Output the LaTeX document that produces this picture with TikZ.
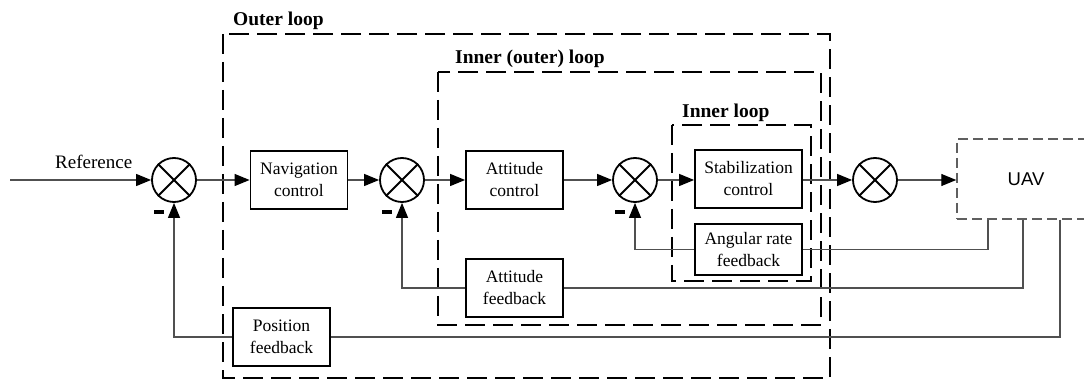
\documentclass[tikz,border=0pt]{standalone}
\usepackage{fontspec}
\setmainfont{Liberation Serif}
\newfontfamily\uavfont{Liberation Sans}
\usepackage{tikz}
\usetikzlibrary{positioning, calc, arrows.meta}
\definecolor{wirecolor}{RGB}{80,80,80}
\definecolor{uavborder}{RGB}{95,95,95}
\tikzset{
  block/.style={
    draw, line width=1.8pt, minimum width=97pt, minimum height=58pt,
    inner sep=2pt, align=center, font=\fontsize{17.5pt}{22pt}\selectfont
  },
  summer/.style={draw, circle, line width=1.8pt, minimum size=44pt, inner sep=0pt},
  uavbox/.style={draw=uavborder, line width=1.5pt, dash pattern=on 10pt off 5pt,
                 minimum width=138pt, minimum height=80pt,
                 font=\uavfont\fontsize{18.5pt}{22pt}\selectfont},
  % thick dashed frames of the three nested loops ──
  loopframe/.style={draw, line width=2pt, dash pattern=on 20pt off 8pt},
  looptitle/.style={anchor=base west, inner sep=0pt,
                    font=\fontsize{19.5pt}{22pt}\selectfont\bfseries},
  signal/.style={-{Triangle[length=15pt, width=12pt, color=black]}, line width=1.2pt, wirecolor},
  wire/.style={line width=1.2pt, wirecolor},
  negsign/.style={fill=black, minimum width=10pt, minimum height=4pt, inner sep=0pt},
}

\begin{document}
\begin{tikzpicture}[x=1pt, y=-1pt]
\useasboundingbox (0,0) rectangle (1084,379);

%% ── nested loop frames ────────────────────────────────────────────
\draw[loopframe] (223,34) rectangle (830,378);
\draw[loopframe] (438,72) rectangle (821,325);
\draw[loopframe] (672,125) rectangle (811,281);
\node[looptitle] (touter) at (233,26) {Outer loop};
\node[looptitle] (tmid)   at (455,64) {Inner (outer) loop};
\node[looptitle] (tinner) at (682,118) {Inner loop};

%% ── forward path ──────────────────────────────────────────────────
\coordinate (refin) at (10,180);
\node[anchor=base west, inner sep=0pt, font=\fontsize{19pt}{22pt}\selectfont] (reflbl) at (55,169) {Reference};
\node[summer] (sum1) at (174,180) {};
\node[block] (nav) at (299,180) {Navigation\\control};
\node[summer] (sum2) at (402,180) {};
\node[block] (attc) at (514.5,180) {Attitude\\control};
\node[summer] (sum3) at (635,180) {};
\node[block, minimum width=107pt] (stab) at (748.5,179) {Stabilization\\control};
\node[summer] (sum4) at (875,180) {};
\node[uavbox] (uav) at (1026,179) {UAV};

%% ── feedback blocks ───────────────────────────────────────────────
\node[block, minimum width=107pt, minimum height=51pt] (angfb) at (748.5,249.5) {Angular rate\\feedback};
\node[block] (attfb) at (514.5,288) {Attitude\\feedback};
\node[block] (posfb) at (281.5,337) {Position\\feedback};

%% ── crosses inside the summing junctions ─────────────────────────
\foreach \s in {sum1, sum2, sum3, sum4} {
  \draw[line width=1.8pt] (\s.45) -- (\s.225);
  \draw[line width=1.8pt] (\s.135) -- (\s.315);
}
\foreach \s in {sum1, sum2, sum3}
  \node[negsign] (neg\s) at ([xshift=-15pt, yshift=-32pt]\s.center) {};

\draw[signal] (refin) -- (sum1);
\draw[signal] (sum1) -- (nav);
\draw[signal] (nav) -- (sum2);
\draw[signal] (sum2) -- (attc);
\draw[signal] (attc) -- (sum3);
\draw[signal] (sum3) -- (stab.west |- sum3);
\draw[signal] (stab.east |- sum4) -- (sum4);
\draw[signal] (sum4) -- (uav.west |- sum4);

%% ── feedback paths from the UAV ──────────────────────────────────
\draw[wire] ([xshift=-38pt]uav.south) |- (angfb.east);
\draw[signal] (angfb.west) -| (sum3.south);
\draw[wire] ([xshift=-3pt]uav.south) |- (attfb.east);
\draw[signal] (attfb.west) -| (sum2.south);
\draw[wire] ([xshift=34pt]uav.south) |- (posfb.east);
\draw[signal] (posfb.west) -| (sum1.south);

\end{tikzpicture}
\end{document}
